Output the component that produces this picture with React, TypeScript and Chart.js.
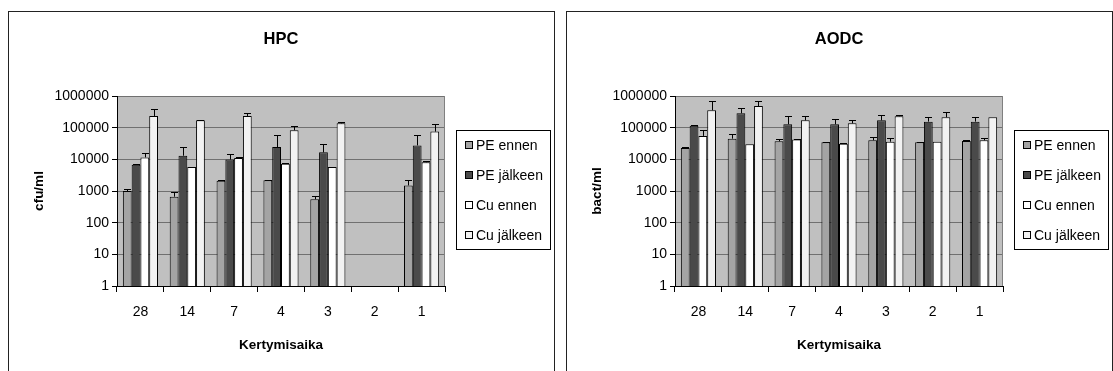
import React, { useEffect, useRef } from 'react';
import { Chart, registerables } from 'chart.js';

Chart.register(...registerables);

const FONT = "'Liberation Sans', Arial, Helvetica, sans-serif";

const categories = ['28', '14', '7', '4', '3', '2', '1'];
const seriesNames = ['PE ennen', 'PE jälkeen', 'Cu ennen', 'Cu jälkeen'];
const seriesColors = ['#a4a4a4', '#4a4a4a', '#ffffff', '#f2f2f2'];
const yTickValues = [1, 10, 100, 1000, 10000, 100000, 1000000];

// HPC (cfu/ml)
const hpcPeEnnen = [1000, 660, 2100, 2200, 550, null, 1500];
const hpcPeJalkeen = [6800, 13000, 9800, 24500, 16600, null, 27500];
const hpcCuEnnen = [11500, 5700, 11000, 7300, 5700, null, 8100];
const hpcCuJalkeen = [234000, 170000, 234000, 83000, 137000, null, 75000];
const hpcPeEnnenErr = [150, 290, 80, 100, 130, null, 800];
const hpcPeJalkeenErr = [300, 12000, 5200, 32500, 14000, null, 29500];
const hpcCuEnnenErr = [4000, 0, 500, 600, 0, null, 600];
const hpcCuJalkeenErr = [156000, 5000, 56000, 32000, 18000, null, 53000];

// AODC (bact/ml)
const aodcPeEnnen = [23000, 45000, 37000, 34500, 40000, 34500, 38000];
const aodcPeJalkeen = [115000, 285000, 128000, 128000, 170000, 155000, 155000];
const aodcCuEnnen = [55000, 30000, 42000, 31000, 36000, 36000, 40000];
const aodcCuJalkeen = [355000, 480000, 170000, 137000, 230000, 213000, 213000];
const aodcPeEnnenErr = [1000, 17000, 8000, 1500, 9000, 1500, 2000];
const aodcPeJalkeenErr = [3000, 145000, 112000, 62000, 85000, 60000, 60000];
const aodcCuEnnenErr = [30000, 0, 2000, 1500, 12000, 0, 8000];
const aodcCuJalkeenErr = [355000, 230000, 65000, 33000, 25000, 107000, 0];

type Props = {
  left: number;
  title: string;
  yTitle: string;
  values: (number | null)[][];
  errors: (number | null)[][];
};

function ChartBox({ left, title, yTitle, values, errors }: Props) {
  const ref = useRef<HTMLCanvasElement | null>(null);

  useEffect(() => {
    const canvas = ref.current;
    if (!canvas) return;

    const decor = {
      id: 'decor',
      beforeDraw(chart: any) {
        const { ctx, chartArea: a } = chart;
        ctx.save();
        ctx.fillStyle = '#c0c0c0';
        ctx.fillRect(a.left, a.top, a.right - a.left, a.bottom - a.top);
        ctx.restore();
      },
      afterDatasetsDraw(chart: any) {
        const { ctx } = chart;
        const yScale = chart.scales.y;
        ctx.save();
        ctx.strokeStyle = '#000';
        ctx.lineWidth = 1;
        values.forEach((series, di) => {
          const meta = chart.getDatasetMeta(di);
          series.forEach((v, i) => {
            const e = errors[di][i];
            if (v == null || e == null || e <= 0) return;
            const el: any = meta.data[i];
            if (!el) return;
            const x = Math.round(el.x) + 0.5;
            const yTop = Math.round(yScale.getPixelForValue(v + e)) + 0.5;
            const yBar = el.y;
            ctx.beginPath();
            ctx.moveTo(x, yBar);
            ctx.lineTo(x, yTop);
            ctx.moveTo(x - 3.5, yTop);
            ctx.lineTo(x + 3.5, yTop);
            ctx.stroke();
          });
        });
        ctx.restore();
      },
      afterDraw(chart: any) {
        const { ctx, chartArea: a } = chart;
        ctx.save();
        // plot right border
        ctx.strokeStyle = '#808080';
        ctx.lineWidth = 1;
        ctx.beginPath();
        ctx.moveTo(Math.round(a.right) - 0.5, a.top);
        ctx.lineTo(Math.round(a.right) - 0.5, a.bottom);
        ctx.stroke();

        ctx.fillStyle = '#000';
        const cx = (a.left + a.right) / 2;
        // title
        ctx.font = `bold 16.5px ${FONT}`;
        ctx.textAlign = 'center';
        ctx.textBaseline = 'middle';
        ctx.fillText(title, cx, 27);
        // x axis title
        ctx.font = `bold 13.5px ${FONT}`;
        ctx.fillText('Kertymisaika', cx, 333);
        // y axis title
        ctx.save();
        ctx.translate(30, (a.top + a.bottom) / 2);
        ctx.rotate(-Math.PI / 2);
        ctx.fillText(yTitle, 0, 0);
        ctx.restore();

        // legend
        const lx = Math.round(a.right) + 11;
        const ly = 118;
        const lw = 94;
        const lh = 119;
        ctx.fillStyle = '#fff';
        ctx.fillRect(lx, ly, lw, lh);
        ctx.strokeStyle = '#000';
        ctx.strokeRect(lx + 0.5, ly + 0.5, lw, lh);
        ctx.font = `14px ${FONT}`;
        ctx.textAlign = 'left';
        ctx.textBaseline = 'middle';
        seriesNames.forEach((name, i) => {
          const ry = ly + 15 + i * 30;
          ctx.fillStyle = seriesColors[i];
          ctx.fillRect(lx + 9, ry - 4, 7, 7);
          ctx.strokeStyle = '#000';
          ctx.strokeRect(lx + 9.5, ry - 3.5, 7, 7);
          ctx.fillStyle = '#000';
          ctx.fillText(name, lx + 20, ry + 1);
        });
        ctx.restore();
      },
    };

    const chart = new Chart(canvas, {
      type: 'bar',
      data: {
        labels: categories,
        datasets: values.map((data, i) => ({
          label: seriesNames[i],
          data: data as any,
          backgroundColor: seriesColors[i],
          borderColor: '#000',
          borderWidth: 1,
          categoryPercentage: 0.75,
          barPercentage: 1,
        })),
      },
      options: {
        responsive: false,
        maintainAspectRatio: false,
        animation: false,
        layout: { padding: { left: 0, right: 109, top: 84, bottom: 46 } },
        plugins: {
          legend: { display: false },
          title: { display: false },
          tooltip: { enabled: false },
        },
        scales: {
          x: {
            grid: {
              offset: true,
              drawOnChartArea: false,
              color: '#000',
              tickColor: '#000',
              tickLength: 6,
            },
            border: { color: '#000', width: 1 },
            ticks: {
              color: '#000',
              font: { family: FONT, size: 14 },
              padding: 12,
              maxRotation: 0,
              autoSkip: false,
            },
            afterFit: (s: any) => {
              s.height = 40;
            },
          },
          y: {
            type: 'logarithmic',
            min: 1,
            max: 1000000,
            afterBuildTicks: (s: any) => {
              s.ticks = yTickValues.map((v) => ({ value: v }));
            },
            ticks: {
              color: '#000',
              font: { family: FONT, size: 14 },
              padding: 3,
              autoSkip: false,
              callback: (v: any) => String(v),
            },
            grid: {
              color: (c: any) => (c.tick && c.tick.value === 1 ? 'rgba(0,0,0,0)' : '#707070'),
              tickColor: '#000',
              tickLength: 5,
            },
            border: { color: '#000', width: 1 },
            afterFit: (s: any) => {
              s.width = 108;
            },
          },
        },
      } as any,
      plugins: [decor],
    });

    return () => {
      chart.destroy();
    };
  }, [title, yTitle, values, errors]);

  return (
    <div
      style={{
        position: 'absolute',
        left,
        top: 11,
        width: 545,
        height: 400,
        border: '1px solid #222',
        background: '#fff',
      }}
    >
      <canvas ref={ref} width={545} height={360} style={{ display: 'block', width: 545, height: 360 }} />
    </div>
  );
}

const hpcValues = [hpcPeEnnen, hpcPeJalkeen, hpcCuEnnen, hpcCuJalkeen];
const hpcErrors = [hpcPeEnnenErr, hpcPeJalkeenErr, hpcCuEnnenErr, hpcCuJalkeenErr];
const aodcValues = [aodcPeEnnen, aodcPeJalkeen, aodcCuEnnen, aodcCuJalkeen];
const aodcErrors = [aodcPeEnnenErr, aodcPeJalkeenErr, aodcCuEnnenErr, aodcCuJalkeenErr];

export default function App() {
  return (
    <div
      style={{
        position: 'absolute',
        left: 0,
        top: 0,
        width: 1113,
        height: 371,
        overflow: 'hidden',
        background: '#fff',
      }}
    >
      <ChartBox left={8} title="HPC" yTitle="cfu/ml" values={hpcValues} errors={hpcErrors} />
      <ChartBox left={566} title="AODC" yTitle="bact/ml" values={aodcValues} errors={aodcErrors} />
    </div>
  );
}
